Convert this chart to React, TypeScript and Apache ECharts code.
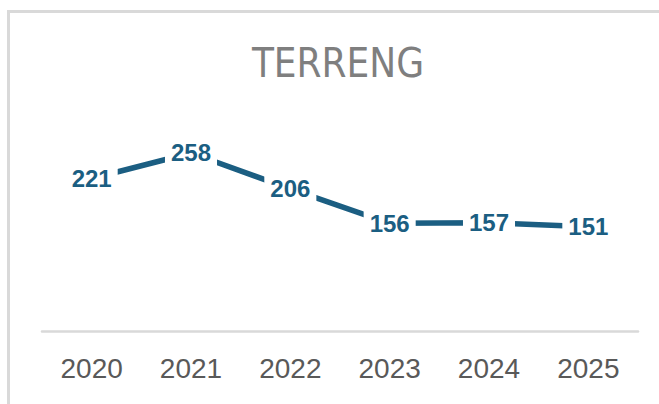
import React, { useEffect, useRef } from "react";
import * as echarts from "echarts";

const categories = ["2020", "2021", "2022", "2023", "2024", "2025"];
const values = [221, 258, 206, 156, 157, 151];
const titleText = "TERRENG";

export default function App() {
  const ref = useRef<HTMLDivElement>(null);
  useEffect(() => {
    document.documentElement.style.overflow = "hidden";
    document.body.style.overflow = "hidden";
    document.body.style.margin = "0";
    if (!ref.current) return;
    const chart = echarts.init(ref.current, undefined, { renderer: "svg" });
    chart.setOption({
      animation: false,
      backgroundColor: "#ffffff",
      graphic: [
        {
          type: "polyline",
          shape: { points: [[8.5, 404], [8.5, 11.5], [659, 11.5]] },
          style: { fill: "none", stroke: "#d9d9d9", lineWidth: 3 },
          z: 0,
        },
        {
          type: "text",
          x: 338,
          y: 63,
          style: {
            text: titleText,
            fill: "#7f7f7f",
            font: "40px 'Liberation Sans Narrow', 'DejaVu Sans Condensed', sans-serif",
            textAlign: "center",
            textVerticalAlign: "middle",
          },
        },
      ],
      grid: { left: 42, right: 21, top: 124, bottom: 73 },
      xAxis: {
        type: "category",
        data: categories,
        boundaryGap: true,
        axisLine: { lineStyle: { color: "#d9d9d9", width: 2.5 } },
        axisTick: { show: false },
        axisLabel: {
          color: "#595959",
          fontSize: 28,
          fontFamily: "'Liberation Sans', Arial, sans-serif",
          margin: 23,
        },
      },
      yAxis: {
        type: "value",
        min: 0,
        max: 300,
        show: false,
        splitLine: { show: false },
      },
      series: [
        {
          type: "line",
          data: values,
          symbol: "circle",
          symbolSize: 2,
          showSymbol: true,
          itemStyle: { color: "rgba(0,0,0,0)", borderWidth: 0 },
          lineStyle: { color: "#1b5e82", width: 5.5 },
          label: {
            show: true,
            position: "inside",
            color: "#1b5e82",
            fontWeight: "bold",
            fontSize: 24,
            fontFamily: "'Liberation Sans', Arial, sans-serif",
            backgroundColor: "#ffffff",
            padding: [2, 6],
          },
        },
      ],
    });
    return () => chart.dispose();
  }, []);
  return (
    <div
      ref={ref}
      style={{ position: "fixed", left: 0, top: 0, width: 659, height: 404 }}
    />
  );
}
